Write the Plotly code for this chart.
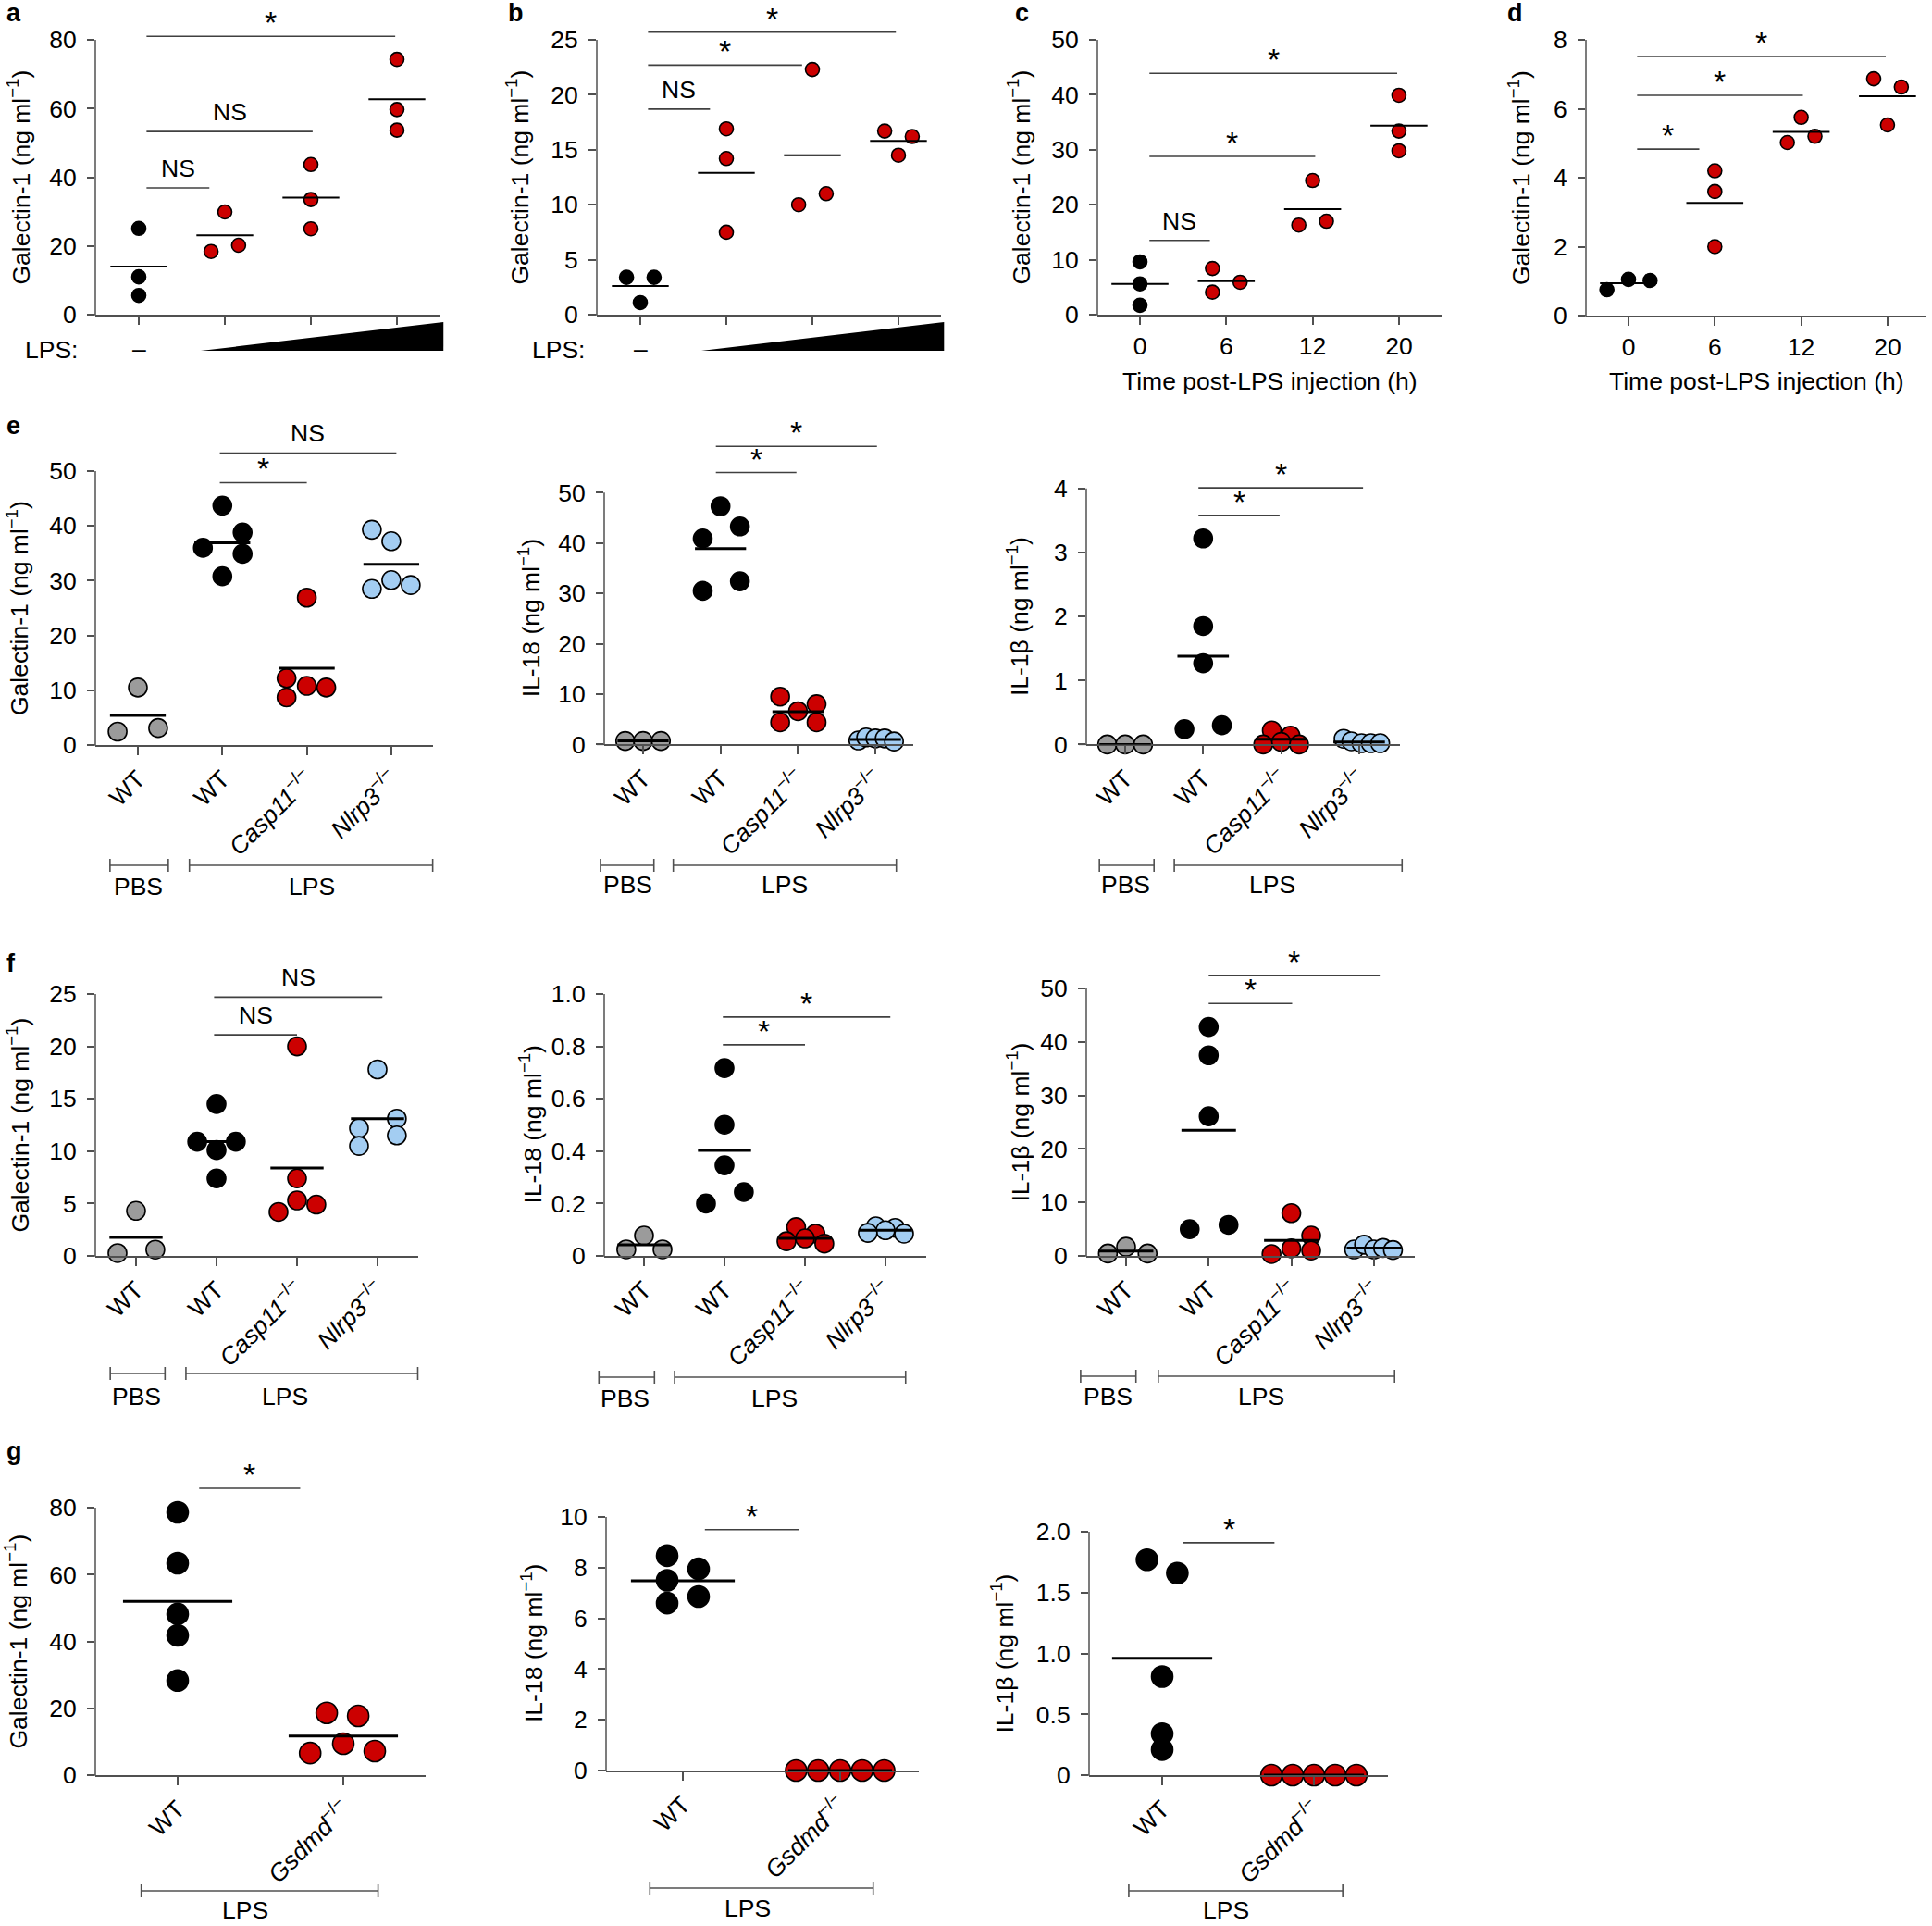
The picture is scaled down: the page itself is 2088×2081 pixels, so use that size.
import plotly.graph_objects as go

W, H = 2088, 2081
FONT = "Liberation Sans, Arial, Helvetica, sans-serif"
FS = 26.5
AX = "#505050"
RED = "#cc0000"
BLUE = "#a3cdf2"
GRAY = "#9b9b9b"
BLK = "#000000"

GAL = "Galectin-1 (ng ml<sup>−1</sup>)"
IL18 = "IL-18 (ng ml<sup>−1</sup>)"
IL1B = "IL-1β (ng ml<sup>−1</sup>)"
TIME_LABELS = ["0", "6", "12", "20"]
KO_LABELS = ["WT", "WT", "<i>Casp11</i><sup>−/−</sup>", "<i>Nlrp3</i><sup>−/−</sup>"]
GS_LABELS = ["WT", "<i>Gsdmd</i><sup>−/−</sup>"]

# ---------------- DATA ----------------
# panel a : Galectin-1 vs LPS dose
a_vals = [[25.1, 11.0, 5.6], [29.9, 18.4, 20.2], [43.7, 33.5, 25.0], [74.3, 59.7, 53.7]]
a_offs = [[0, 0, 0], [0, -0.16, 0.16], [0, 0, 0], [0, 0, 0]]
a_means = [14.0, 23.1, 34.1, 62.7]
a_sig = ["NS", "NS", "*"]

# panel b : Galectin-1 vs LPS dose
b_vals = [[3.4, 3.4, 1.1], [16.9, 14.2, 7.5], [22.3, 10.0, 11.0], [16.7, 16.2, 14.5]]
b_offs = [[-0.16, 0.16, 0], [0, 0, 0], [0, -0.16, 0.16], [-0.16, 0.16, 0]]
b_means = [2.6, 12.9, 14.5, 15.8]
b_sig = ["NS", "*", "*"]

# panel c : time course
c_vals = [[9.6, 5.6, 1.7], [8.4, 5.9, 4.1], [24.4, 16.3, 17.0], [39.9, 33.4, 29.8]]
c_offs = [[0, 0, 0], [-0.16, 0.16, -0.16], [0, -0.16, 0.16], [0, 0, 0]]
c_means = [5.6, 6.1, 19.2, 34.4]
c_sig = ["NS", "*", "*"]

# panel d : time course
d_vals = [[0.75, 1.05, 1.02], [4.2, 3.6, 2.0], [5.75, 5.02, 5.2], [6.87, 6.63, 5.53]]
d_offs = [[-0.25, 0, 0.25], [0, 0, 0], [0, -0.16, 0.16], [-0.16, 0.16, 0]]
d_means = [0.94, 3.27, 5.33, 6.36]
d_sig = ["*", "*", "*"]

# panel e : Galectin-1, IL-18, IL-1beta
e1_vals = [[10.5, 2.45, 3.1], [43.7, 38.8, 36.0, 34.9, 30.8], [26.9, 12.2, 10.8, 10.5, 8.7], [39.3, 37.2, 28.5, 30.1, 29.2]]
e1_offs = [[0, -0.24, 0.24], [0, 0.24, -0.23, 0.24, 0], [0, -0.24, 0, 0.23, -0.24], [-0.23, 0, -0.23, 0, 0.23]]
e1_means = [5.4, 36.9, 14.0, 33.0]
e1_sig = ["*", "NS"]

e2_vals = [[0.7, 0.7, 0.7], [47.3, 43.3, 40.9, 32.4, 30.5], [9.5, 8.0, 6.6, 4.4, 4.4], [0.8, 1.4, 1.2, 1.2, 0.6]]
e2_offs = [[-0.23, 0, 0.23], [0, 0.25, -0.23, 0.25, -0.23], [-0.23, 0.24, 0, -0.23, 0.24], [-0.22, -0.12, 0, 0.12, 0.24]]
e2_means = [0.7, 38.9, 6.5, 1.0]
e2_sig = ["*", "*"]

e3_vals = [[0, 0, 0], [3.22, 1.85, 1.27, 0.24, 0.3], [0.22, 0.14, 0.0, 0.04, 0.0], [0.09, 0.05, 0.02, 0.02, 0.02]]
e3_offs = [[-0.23, 0, 0.23], [0, 0, 0, -0.24, 0.24], [-0.12, 0.12, -0.23, 0, 0.23], [-0.2, -0.1, 0.03, 0.15, 0.27]]
e3_means = [0.0, 1.38, 0.08, 0.04]
e3_sig = ["*", "*"]

# panel f
f1_vals = [[4.3, 0.27, 0.6], [14.5, 10.9, 10.9, 10.1, 7.4], [20.0, 7.4, 5.3, 4.9, 4.2], [17.8, 13.1, 12.2, 11.5, 10.5]]
f1_offs = [[0, -0.23, 0.24], [0, -0.24, 0.24, 0, 0], [0, 0, 0, 0.24, -0.23], [0, 0.24, -0.23, 0.24, -0.23]]
f1_means = [1.77, 10.9, 8.4, 13.1]
f1_sig = ["NS", "NS"]

f2_vals = [[0.078, 0.025, 0.025], [0.717, 0.501, 0.346, 0.244, 0.2], [0.11, 0.085, 0.067, 0.056, 0.047], [0.113, 0.107, 0.098, 0.088, 0.085]]
f2_offs = [[0, -0.22, 0.23], [0, 0, 0, 0.24, -0.23], [-0.11, 0.13, 0, -0.23, 0.24], [-0.12, 0.12, 0, -0.22, 0.23]]
f2_means = [0.042, 0.403, 0.067, 0.098]
f2_sig = ["*", "*"]

f3_vals = [[1.7, 0.45, 0.45], [42.8, 37.5, 26.1, 5.0, 5.8], [8.0, 3.8, 1.4, 1.0, 0.35], [1.2, 2.1, 1.2, 1.5, 1.1]]
f3_offs = [[0, -0.22, 0.26], [0, 0, 0, -0.23, 0.24], [0, 0.24, 0, 0.24, -0.24], [-0.24, -0.12, 0, 0.11, 0.23]]
f3_means = [0.9, 23.5, 2.9, 1.45]
f3_sig = ["*", "*"]

# panel g
g1_vals = [[78.6, 63.4, 48.2, 41.8, 28.3], [18.6, 17.7, 9.4, 6.6, 7.2]]
g1_offs = [[0, 0, 0, 0, 0], [-0.1, 0.09, 0, -0.2, 0.19]]
g1_means = [52.0, 11.7]
g1_sig = ["*"]

g2_vals = [[8.47, 7.95, 7.5, 6.86, 6.6], [0, 0, 0, 0, 0]]
g2_offs = [[-0.1, 0.1, -0.1, 0.1, -0.1], [-0.28, -0.14, 0, 0.14, 0.28]]
g2_means = [7.48, 0.0]
g2_sig = ["*"]

g3_vals = [[1.77, 1.66, 0.81, 0.34, 0.21], [0, 0, 0, 0, 0]]
g3_offs = [[-0.1, 0.1, 0, 0, 0], [-0.28, -0.14, 0, 0.14, 0.28]]
g3_means = [0.96, 0.0]
g3_sig = ["*"]

# ---------------- LAYOUT SPECS ----------------
C4 = [BLK, RED, RED, RED]
CKO = [GRAY, BLK, RED, BLUE]
CG = [BLK, RED]

PANELS = [
    dict(vals=a_vals, offs=a_offs, means=a_means, sig=a_sig, colors=C4, xlabels=None, ytitle=GAL,
         yt=[0, 20, 40, 60, 80], ytt=None,
         geo=dict(left=103, right=475, c0=150, sp=93, py0=340, pytop=43, ymin=0, ytop=80, ymax=90),
         sigx=[(0.09, 0.82), (0.09, 2.02), (0.09, 2.98)], sigy=[36.9, 53.3, 81.0],
         ms=15, mlw=2, tx=20, letter=("a", 5, 23), lps=(25, 0.72, 3.54), angle=0),
    dict(vals=b_vals, offs=b_offs, means=b_means, sig=b_sig, colors=C4, xlabels=None, ytitle=GAL,
         yt=[0, 5, 10, 15, 20, 25], ytt=None,
         geo=dict(left=645, right=1017, c0=692, sp=93, py0=340, pytop=43, ymin=0, ytop=25, ymax=28.3),
         sigx=[(0.09, 0.81), (0.09, 1.88), (0.09, 2.97)], sigy=[18.7, 22.7, 25.7],
         ms=15, mlw=2, tx=560, letter=("b", 547, 23), lps=(573, 0.71, 3.53), angle=0),
    dict(vals=c_vals, offs=c_offs, means=c_means, sig=c_sig, colors=C4, xlabels=TIME_LABELS, ytitle=GAL,
         yt=[0, 10, 20, 30, 40, 50], ytt=None,
         geo=dict(left=1186, right=1558, c0=1232, sp=93.3, py0=340, pytop=43, ymin=0, ytop=50, ymax=52),
         sigx=[(0.11, 0.81), (0.11, 2.03), (0.11, 2.98)], sigy=[13.5, 28.8, 43.9],
         ms=15, mlw=2, tx=1102, letter=("c", 1095, 23), xtitle=True, angle=0),
    dict(vals=d_vals, offs=d_offs, means=d_means, sig=d_sig, colors=C4, xlabels=TIME_LABELS, ytitle=GAL,
         yt=[0, 2, 4, 6, 8], ytt=None,
         geo=dict(left=1714, right=2082, c0=1760, sp=93.3, py0=341, pytop=43, ymin=0, ytop=8, ymax=8.3),
         sigx=[(0.1, 0.82), (0.1, 2.02), (0.1, 2.98)], sigy=[4.83, 6.39, 7.52],
         ms=15, mlw=2, tx=1642, letter=("d", 1627, 23), xtitle=True, angle=0),
    dict(vals=e1_vals, offs=e1_offs, means=e1_means, sig=e1_sig, colors=CKO, xlabels=KO_LABELS, ytitle=GAL,
         yt=[0, 10, 20, 30, 40, 50], ytt=None,
         geo=dict(left=103, right=468, c0=149, sp=91.3, py0=805, pytop=509, ymin=0, ytop=50, ymax=60),
         sigx=[(0.97, 2.0), (0.97, 3.06)], sigy=[47.9, 53.3],
         ms=20, mlw=3, tx=19, letter=("e", 5, 469), angle=-45,
         br=dict(y=935, ty=958, groups=[("PBS", -0.33, 0.36, 0.01), ("LPS", 0.61, 3.49, 2.06)])),
    dict(vals=e2_vals, offs=e2_offs, means=e2_means, sig=e2_sig, colors=CKO, xlabels=KO_LABELS, ytitle=IL18,
         yt=[0, 10, 20, 30, 40, 50], ytt=None,
         geo=dict(left=653, right=987, c0=695, sp=83.7, py0=804.4, pytop=532.3, ymin=0, ytop=50, ymax=62),
         sigx=[(0.94, 1.98), (0.94, 3.02)], sigy=[54.0, 59.2],
         ms=20, mlw=3, tx=572, angle=-45,
         br=dict(y=935, ty=956, groups=[("PBS", -0.55, 0.14, -0.2), ("LPS", 0.39, 3.27, 1.83)])),
    dict(vals=e3_vals, offs=e3_offs, means=e3_means, sig=e3_sig, colors=CKO, xlabels=KO_LABELS, ytitle=IL1B,
         yt=[0, 1, 2, 3, 4], ytt=None,
         geo=dict(left=1174, right=1513, c0=1216, sp=84.3, py0=804.4, pytop=527.8, ymin=0, ytop=4, ymax=4.4),
         sigx=[(0.94, 1.98), (0.94, 3.05)], sigy=[3.58, 4.01],
         ms=20, mlw=3, tx=1100, angle=-45,
         br=dict(y=935, ty=956, groups=[("PBS", -0.33, 0.37, 0.01), ("LPS", 0.63, 3.55, 1.89)])),
    dict(vals=f1_vals, offs=f1_offs, means=f1_means, sig=f1_sig, colors=CKO, xlabels=KO_LABELS, ytitle=GAL,
         yt=[0, 5, 10, 15, 20, 25], ytt=None,
         geo=dict(left=103, right=452, c0=147, sp=87, py0=1357, pytop=1074, ymin=0, ytop=25, ymax=27),
         sigx=[(0.97, 2.0), (0.97, 3.06)], sigy=[21.1, 24.7],
         ms=20, mlw=3, tx=19, letter=("f", 5, 1050), angle=-45,
         br=dict(y=1484, ty=1509, groups=[("PBS", -0.32, 0.36, 0.0), ("LPS", 0.62, 3.5, 1.85)])),
    dict(vals=f2_vals, offs=f2_offs, means=f2_means, sig=f2_sig, colors=CKO, xlabels=KO_LABELS, ytitle=IL18,
         yt=[0, 0.2, 0.4, 0.6, 0.8, 1.0], ytt=["0", "0.2", "0.4", "0.6", "0.8", "1.0"],
         geo=dict(left=653, right=1001, c0=696, sp=87, py0=1357, pytop=1074, ymin=0, ytop=1.0, ymax=1.02),
         sigx=[(0.98, 2.0), (0.98, 3.06)], sigy=[0.806, 0.912],
         ms=20, mlw=3, tx=573, angle=-45,
         br=dict(y=1488, ty=1511, groups=[("PBS", -0.56, 0.13, -0.23), ("LPS", 0.38, 3.25, 1.62)])),
    dict(vals=f3_vals, offs=f3_offs, means=f3_means, sig=f3_sig, colors=CKO, xlabels=KO_LABELS, ytitle=IL1B,
         yt=[0, 10, 20, 30, 40, 50], ytt=None,
         geo=dict(left=1174, right=1529, c0=1217, sp=89.3, py0=1357, pytop=1068, ymin=0, ytop=50, ymax=54),
         sigx=[(1.0, 2.01), (1.0, 3.07)], sigy=[47.2, 52.4],
         ms=20, mlw=3, tx=1100, angle=-45,
         br=dict(y=1487, ty=1509, groups=[("PBS", -0.55, 0.12, -0.22), ("LPS", 0.39, 3.25, 1.63)])),
    dict(vals=g1_vals, offs=g1_offs, means=g1_means, sig=g1_sig, colors=CG, xlabels=GS_LABELS, ytitle=GAL,
         yt=[0, 20, 40, 60, 80], ytt=None,
         geo=dict(left=103, right=460, c0=192, sp=179, py0=1918, pytop=1629, ymin=0, ytop=80, ymax=90),
         sigx=[(0.13, 0.74)], sigy=[85.8],
         ms=23, mlw=3, tx=17, letter=("g", 5, 1577), angle=-45,
         br=dict(y=2043, ty=2064, groups=[("LPS", -0.22, 1.21, 0.41)])),
    dict(vals=g2_vals, offs=g2_offs, means=g2_means, sig=g2_sig, colors=CG, xlabels=GS_LABELS, ytitle=IL18,
         yt=[0, 2, 4, 6, 8, 10], ytt=None,
         geo=dict(left=655, right=993, c0=738, sp=170, py0=1913, pytop=1639, ymin=0, ytop=10, ymax=10.5),
         sigx=[(0.14, 0.74)], sigy=[9.5],
         ms=23, mlw=3, tx=575, angle=-45,
         br=dict(y=2040, ty=2062, groups=[("LPS", -0.21, 1.21, 0.41)])),
    dict(vals=g3_vals, offs=g3_offs, means=g3_means, sig=g3_sig, colors=CG, xlabels=GS_LABELS, ytitle=IL1B,
         yt=[0, 0.5, 1.0, 1.5, 2.0], ytt=["0", "0.5", "1.0", "1.5", "2.0"],
         geo=dict(left=1177, right=1500, c0=1256, sp=164, py0=1918, pytop=1655, ymin=0, ytop=2.0, ymax=2.1),
         sigx=[(0.14, 0.74)], sigy=[1.91],
         ms=23, mlw=3, tx=1083, angle=-45,
         br=dict(y=2043, ty=2064, groups=[("LPS", -0.22, 1.19, 0.42)])),
]


def ppx(p):
    return p / W


def ppy(p):
    return 1 - p / H


def tfont(size=FS):
    return dict(size=size, color="black", family=FONT)


fig = go.Figure()
shapes = []
annots = []
layout_axes = {}

for i, P in enumerate(PANELS):
    n = i + 1
    s = "" if n == 1 else str(n)
    xref, yref = "x" + s, "y" + s
    G = P["geo"]
    xr = [(G["left"] - G["c0"]) / G["sp"], (G["right"] - G["c0"]) / G["sp"]]
    ppu = (G["py0"] - G["pytop"]) / (G["ytop"] - G["ymin"])
    ptop = max(0.0, G["py0"] - (G["ymax"] - G["ymin"]) * ppu)
    ymax = G["ymin"] + (G["py0"] - ptop) / ppu
    ncat = len(P["vals"])
    xlen = G["right"] - G["left"]

    def fx(v, xr=xr):
        return (v - xr[0]) / (xr[1] - xr[0])

    xa = dict(
        domain=[G["left"] / W, G["right"] / W], range=xr, anchor=yref, automargin=False,
        tickmode="array", tickvals=list(range(ncat)),
        ticks="outside", ticklen=9, tickwidth=1.5, tickcolor=AX,
        showline=True, linecolor=AX, linewidth=1.5, showgrid=False, zeroline=False,
        tickangle=P["angle"], tickfont=tfont(), fixedrange=True)
    if P["xlabels"] is None:
        xa["showticklabels"] = False
    else:
        xa["ticktext"] = P["xlabels"]
    layout_axes["xaxis" + s] = xa
    layout_axes["yaxis" + s] = dict(
        domain=[1 - G["py0"] / H, 1 - ptop / H], range=[G["ymin"], ymax], anchor=xref, automargin=False,
        tickmode="array", tickvals=P["yt"], ticktext=P["ytt"] if P["ytt"] else [str(v) for v in P["yt"]],
        ticks="outside", ticklen=8, tickwidth=1.5, tickcolor=AX, ticklabelstandoff=6,
        showline=False, showgrid=False, zeroline=False,
        tickfont=tfont(), fixedrange=True)

    # points
    for g, (vals, offs) in enumerate(zip(P["vals"], P["offs"])):
        fig.add_trace(go.Scatter(
            x=[g + o for o in offs], y=vals, mode="markers", xaxis=xref, yaxis=yref,
            marker=dict(size=P["ms"], color=P["colors"][g], line=dict(color="black", width=1.6)),
            cliponaxis=False, showlegend=False, hoverinfo="skip"))

    # mean lines
    for g, m in enumerate(P["means"]):
        shapes.append(dict(type="line", xref=xref, yref=yref, x0=g - 0.33, x1=g + 0.33, y0=m, y1=m,
                           line=dict(color="black", width=P["mlw"])))

    # y axis line (0 .. top tick) and small overhang of the x axis line
    shapes.append(dict(type="line", xref=xref + " domain", yref=yref, x0=0, x1=0,
                       y0=G["ymin"], y1=G["ytop"], line=dict(color=AX, width=1.5)))
    shapes.append(dict(type="line", xref=xref + " domain", yref=yref + " domain", x0=-8.0 / xlen, x1=0,
                       y0=0, y1=0, line=dict(color=AX, width=1.5)))

    # significance bars
    for (x0, x1), yv, lab in zip(P["sigx"], P["sigy"], P["sig"]):
        shapes.append(dict(type="line", xref=xref, yref=yref, x0=x0, x1=x1, y0=yv, y1=yv,
                           line=dict(color="#404040", width=1.6)))
        star = lab == "*"
        annots.append(dict(text=lab, xref=xref, yref=yref, x=(x0 + x1) / 2, y=yv, showarrow=False,
                           xanchor="center", yanchor="middle", yshift=15 if star else 21,
                           font=tfont(34 if star else FS)))

    # y title
    annots.append(dict(text=P["ytitle"], xref="paper", yref=yref, x=ppx(P["tx"]),
                       y=(G["ymin"] + G["ytop"]) / 2, textangle=-90, showarrow=False,
                       xanchor="center", yanchor="middle", font=tfont()))

    # panel letter
    if "letter" in P:
        L, lx, base = P["letter"]
        annots.append(dict(text="<b>%s</b>" % L, xref="paper", yref="paper", x=ppx(lx),
                           y=ppy(base - 0.35 * 27), showarrow=False, xanchor="left", yanchor="middle",
                           font=tfont(27)))

    # LPS dose wedge
    if "lps" in P:
        lx, w0, w1 = P["lps"]
        annots.append(dict(text="LPS:", xref="paper", yref="paper", x=ppx(lx), y=ppy(378),
                           showarrow=False, xanchor="left", yanchor="middle", font=tfont()))
        annots.append(dict(text="–", xref=xref, yref="paper", x=0, y=ppy(377),
                           showarrow=False, xanchor="center", yanchor="middle", font=tfont()))
        shapes.append(dict(type="path", xref=xref + " domain", yref="paper",
                           path="M %f,%f L %f,%f L %f,%f Z" % (fx(w0), ppy(379), fx(w1), ppy(379), fx(w1), ppy(348)),
                           fillcolor="black", line=dict(width=0)))

    # x title
    if P.get("xtitle"):
        annots.append(dict(text="Time post-LPS injection (h)", xref=xref + " domain", yref="paper",
                           x=0.5, y=ppy(412), showarrow=False, xanchor="center", yanchor="middle",
                           font=tfont()))

    # treatment brackets
    if "br" in P:
        B = P["br"]
        for lab, b0, b1, tcx in B["groups"]:
            shapes.append(dict(type="line", xref=xref + " domain", yref="paper", x0=fx(b0), x1=fx(b1),
                               y0=ppy(B["y"]), y1=ppy(B["y"]), line=dict(color=AX, width=1.6)))
            for bx in (b0, b1):
                shapes.append(dict(type="line", xref=xref + " domain", yref="paper", x0=fx(bx), x1=fx(bx),
                                   y0=ppy(B["y"] - 7), y1=ppy(B["y"] + 7), line=dict(color=AX, width=1.6)))
            annots.append(dict(text=lab, xref=xref + " domain", yref="paper", x=fx(tcx), y=ppy(B["ty"]),
                               showarrow=False, xanchor="center", yanchor="middle", font=tfont()))

fig.update_layout(
    template="none",
    width=W, height=H, margin=dict(l=0, r=0, t=0, b=0, pad=0, autoexpand=False),
    paper_bgcolor="white", plot_bgcolor="rgba(0,0,0,0)",
    font=dict(family=FONT, size=FS, color="black"),
    shapes=shapes, annotations=annots, showlegend=False,
    **layout_axes)

fig.write_html("out.html", config={"displayModeBar": False},
               post_script="document.body.style.margin='0px';document.body.style.overflow='hidden';")
